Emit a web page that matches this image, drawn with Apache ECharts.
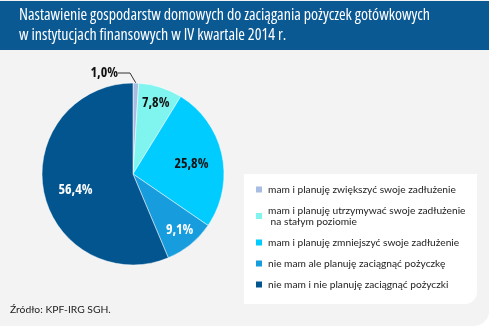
<!DOCTYPE html>
<html><head><meta charset="utf-8">
<script src="https://cdn.jsdelivr.net/npm/echarts@6/dist/echarts.min.js"></script>
<style>html,body{margin:0;padding:0;background:#fff}#c{width:491px;height:326px}</style>
</head><body><div id="c"></div>
<script>
const titleLines = ['Nastawienie gospodarstw domowych do zaciągania pożyczek gotówkowych', 'w instytucjach finansowych w IV kwartale 2014 r.'];
const sourceText = 'Źródło: KPF-IRG SGH.';
const categories = [
  'mam i planuję zwiększyć swoje zadłużenie',
  'mam i planuję utrzymywać swoje zadłużenie\n na stałym poziomie',
  'mam i planuję zmniejszyć swoje zadłużenie',
  'nie mam ale planuję zaciągnąć pożyczkę',
  'nie mam i nie planuję zaciągnąć pożyczki'
];
const values = [1.0, 7.8, 25.8, 9.1, 56.4];

const colors = ['#a9bde3', '#80f4ef', '#00ccff', '#179ddd', '#03558f'];
const labelColors = ['#111', '#111', '#111', '#fff', '#fff'];
const labelOffsets = [[0, 0], [8, -25], [11, 0], [16, 18], [-10, 6]];
const FAM = '"Open Sans", sans-serif';
const LEG = 'Lato, sans-serif';

const chart = echarts.init(document.getElementById('c'), null, {renderer: 'canvas'});
chart.setOption({
  backgroundColor: '#ffffff',
  animation: false,
  color: colors,
  graphic: [
    {type: 'rect', z: -10, shape: {x: 0, y: 0, width: 489, height: 326, r: [0, 0, 15, 0]}, style: {fill: '#f3f3f3'}},
    {type: 'rect', z: -9, shape: {x: 0, y: 1, width: 489, height: 49}, style: {fill: '#0b5993'}},
    {type: 'rect', z: -8, shape: {x: 244, y: 174, width: 233, height: 130, r: [0, 0, 12, 0]}, style: {fill: '#ffffff'}}
  ],
  title: [
    {text: titleLines.join('\n'), left: 19, top: 5, padding: 0,
     textStyle: {color: '#ffffff', fontFamily: FAM, fontStyle: 'condensed', fontWeight: 'normal', fontSize: 16, lineHeight: 20.5}},
    {text: sourceText, left: 10, top: 305, padding: 0,
     textStyle: {color: '#222', fontFamily: LEG, fontWeight: 'normal', fontSize: 10.3}}
  ],
  legend: {
    orient: 'vertical', left: 254, top: 184, padding: 0,
    itemWidth: 8, itemHeight: 8, itemGap: 10, icon: 'rect',
    data: categories,
    textStyle: {fontFamily: LEG, fontSize: 10.2, color: '#222', lineHeight: 11}
  },
  series: [{
    type: 'pie',
    center: [133, 174], radius: 91,
    startAngle: 90, clockwise: true,
    avoidLabelOverlap: false,
    itemStyle: {borderColor: '#ffffff', borderWidth: 0.5},
    data: categories.map((n, i) => ({
      name: n, value: values[i],
      label: i === 0 ? {position: 'outside', color: labelColors[i]} :
        {position: 'inside', color: labelColors[i], offset: labelOffsets[i]},
      labelLine: {show: i === 0, length: 6, length2: 12, lineStyle: {color: '#333', width: 1}}
    })),
    label: {
      formatter: p => p.value.toFixed(1).replace('.', ',') + '%',
      fontFamily: FAM, fontStyle: 'condensed', fontWeight: 'bold', fontSize: 14
    },
    labelLayout: function (p) {
      if (p.dataIndex === 0) {
        return {x: 118, y: 73, align: 'right', verticalAlign: 'middle'};
      }
    }
  }]
});
</script></body></html>
